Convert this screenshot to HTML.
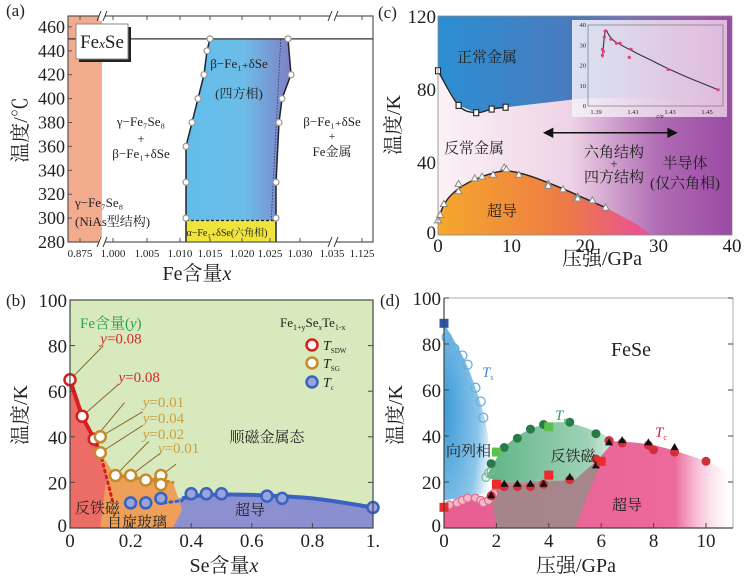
<!DOCTYPE html>
<html><head><meta charset="utf-8">
<style>
html,body{margin:0;padding:0;background:#fff;}
svg{display:block;}
svg text{font-family:"Liberation Serif","Noto Serif CJK SC","Noto Sans CJK SC",serif;}
</style></head>
<body>
<svg id="fig" width="752" height="578" viewBox="0 0 752 578" xmlns="http://www.w3.org/2000/svg">
<defs>
<linearGradient id="gBeta" x1="0" x2="1" y1="0" y2="0"><stop offset="0" stop-color="#62bdea"/><stop offset="0.55" stop-color="#6cbde8"/><stop offset="1" stop-color="#7f7fc6"/></linearGradient>
<linearGradient id="gCbg" x1="0" x2="1" y1="0" y2="0"><stop offset="0" stop-color="#fbf2f6"/><stop offset="0.45" stop-color="#eed3e6"/><stop offset="0.75" stop-color="#b06cb4"/><stop offset="1" stop-color="#9a4aa4"/></linearGradient>
<linearGradient id="gCblue" x1="0" x2="1" y1="0" y2="0"><stop offset="0" stop-color="#2b8fd2"/><stop offset="0.5" stop-color="#4d78bc"/><stop offset="0.8" stop-color="#7a5cb0" stop-opacity="0.6"/><stop offset="1" stop-color="#9a4aa4" stop-opacity="0"/></linearGradient>
<linearGradient id="gCsc" x1="0" x2="1" y1="0" y2="0"><stop offset="0" stop-color="#f4a82c"/><stop offset="0.6" stop-color="#ee7a45"/><stop offset="1" stop-color="#e94e9a"/></linearGradient>
<linearGradient id="gBsc" x1="0" x2="1"><stop offset="0" stop-color="#e7a07a"/><stop offset="0.15" stop-color="#8e90cf"/><stop offset="1" stop-color="#8a8fd0"/></linearGradient>
<radialGradient id="gDblue" cx="0" cy="0.5" r="1"><stop offset="0" stop-color="#3a9ad8"/><stop offset="0.7" stop-color="#8cc6ea"/><stop offset="1" stop-color="#fff"/></radialGradient>
<linearGradient id="gDpink" x1="0" x2="1"><stop offset="0" stop-color="#e85d92"/><stop offset="0.8" stop-color="#ec6a9c"/><stop offset="1" stop-color="#fff" stop-opacity="0.2"/></linearGradient>
<linearGradient id="gDgreen" x1="0" x2="1"><stop offset="0" stop-color="#5fb486"/><stop offset="0.8" stop-color="#9fd2b6"/><stop offset="1" stop-color="#d8efe3"/></linearGradient>
<linearGradient id="gInset" x1="0" x2="1"><stop offset="0" stop-color="#f4f4fb" stop-opacity="0.85"/><stop offset="1" stop-color="#f0d4ea" stop-opacity="0.8"/></linearGradient>
</defs>
<g id="pa"></g>
<g id="pc"></g>
<g id="pb"></g>
<g id="pd"></g>
</svg>
<script>
// ---------- Panel (a) data ----------
const aLeftPtsX = [1.011,1.011,1.011,1.012,1.013,1.014,1.0145,1.015];
const aLeftPtsT = [300,330,360,380,400,420,440,450];
const aRightPtsX = [1.026,1.026,1.0265,1.027,1.0285,1.028];
const aRightPtsT = [300,330,380,400,420,450];
const aXTicks = ["0.875","1.000","1.005","1.010","1.015","1.020","1.025","1.030","1.035","1.125"];
const aYTicks = [280,300,320,340,360,380,400,420,440,460];
// ---------- Panel (c) data ----------
const cNormP = [0,2.8,5.2,7.3,9.2];
const cNormT = [90,71,67,69,70];
const cScP = [0,0.3,0.8,2.8,2.8,5,6,7.5,9,9.3,11,15,15,17,19,19,21,22.8];
const cScT = [8,11,17,28,24,31,32,33,37,36,33,28,27,25,21,20,19,15];
const cXTicks = [0,10,20,30,40];
const cYTicks = [0,40,80,120];
const insX = [1.3935,1.3935,1.394,1.3945,1.395,1.398,1.401,1.403,1.408,1.409,1.429,1.456];
const insY = [25,28,27,34,37,33,31,31,24,28,18,8];
const insCurveX = [1.3935,1.395,1.397,1.40,1.41,1.42,1.43,1.44,1.456];
const insCurveY = [24,37,35,32,27,22.5,18,14,8];
const insXTicks = [1.39,1.41,1.43,1.45];
const insYTicks = [0,10,20,30,40];
// ---------- Panel (b) data ----------
const bSdwX = [0,0.04,0.08];
const bSdwT = [65,49,39];
const bSgX = [0.1,0.1,0.15,0.2,0.25,0.3,0.3];
const bSgT = [40,33,23,23,21,23,19];
const bTcX = [0.2,0.25,0.3,0.4,0.45,0.5,0.65,0.7,1.0];
const bTcT = [11,11,13,15,15,15,14,13,9];
const bXTicks = [0,0.2,0.4,0.6,0.8,1.0];
const bYTicks = [0,20,40,60,80,100];
// ---------- Panel (d) data ----------
const dTsP = [0.1,0.4,0.7,0.9,1.2,1.4,1.5];
const dTsT = [83,78,75,71,61,55,48];
const dOpenGP = [1.6,1.7,1.8];
const dOpenGT = [22,24,25];
const dTmP = [1.8,2.3,2.8,3.3,3.8,4.8,5.8,6.3];
const dTmT = [28,35,39,43,45,46,41,38];
const dGsqP = [2,4];
const dGsqT = [33,44];
const dRsqP = [0,2,4,6];
const dRsqT = [9,19,23,29];
const dTcOpenP = [0.2,0.5,0.7,0.9,1.2,1.4,1.5,1.7,1.9];
const dTcOpenT = [10,11,12,13,13,12,11,12,15];
const dTcP = [1.8,2.3,2.8,3.3,3.8,4.8,5.8,6.3,6.8,7.8,8,8.8,10];
const dTcT = [14,18,18,18,19,21,30,38,37,36,34,33,29];
const dTriP = [1.8,2.3,2.8,3.3,3.8,4.8,5.8,6.3,6.8,7.8,8.8];
const dTriT = [14,19,19,19,19,22,27,37,38,37,35];
const dXTicks = [0,2,4,6,8,10];
const dYTicks = [0,20,40,60,80,100];

const NS="http://www.w3.org/2000/svg";
const FONT='"Liberation Serif","Noto Serif CJK SC","Noto Sans CJK SC",serif';
function mk(parent,tag,attrs,text){const e=document.createElementNS(NS,tag);for(const k in attrs)e.setAttribute(k,attrs[k]);if(tag==='text')e.setAttribute('font-family',FONT);if(text!==undefined)e.textContent=text;parent.appendChild(e);return e;}
function line(p,pts){return pts.map((q,i)=>(i?'L':'M')+q[0].toFixed(1)+','+q[1].toFixed(1)).join('');}
function smooth(pts){let d='M'+pts[0][0]+','+pts[0][1];for(let i=1;i<pts.length;i++){const p0=pts[i-2]||pts[i-1],p1=pts[i-1],p2=pts[i],p3=pts[i+1]||p2;const c1=[p1[0]+(p2[0]-p0[0])/6,p1[1]+(p2[1]-p0[1])/6],c2=[p2[0]-(p3[0]-p1[0])/6,p2[1]-(p3[1]-p1[1])/6];d+='C'+c1[0].toFixed(1)+','+c1[1].toFixed(1)+' '+c2[0].toFixed(1)+','+c2[1].toFixed(1)+' '+p2[0].toFixed(1)+','+p2[1].toFixed(1);}return d;}
function txt(g,x,y,s,size,opt){opt=opt||{};const t=mk(g,'text',Object.assign({x:x,y:y,'font-size':size,'text-anchor':opt.a||'middle',fill:opt.fill||'#222'},opt.extra||{}),s);return t;}

// ================= Panel A =================
(function(){
const g=document.getElementById('pa');
const X0=68,X1=373,Y0=16,Y1=242;
const xs=v=>180+(v-1.010)/0.005*30;
const ys=t=>242-(t-280)/20*23.9;
mk(g,'rect',{x:X0,y:Y0,width:X1-X0,height:Y1-Y0,fill:'#fff'});
let r=mk(g,'rect',{x:X0,y:Y0,width:34,height:Y1-Y0,fill:'#f3ab8d'});

const left=aLeftPtsX.map((v,i)=>[xs(v),ys(aLeftPtsT[i])]);
const right=aRightPtsX.map((v,i)=>[xs(v),ys(aRightPtsT[i])]);
const lb=[[xs(1.011),ys(298)],...left];
const rb=[[xs(1.026),ys(298)],...right];
const poly=lb.concat(rb.slice().reverse());
let p=mk(g,'path',{d:line(g,poly)+'Z',fill:'url(#gBeta)',stroke:'none'});

mk(g,'line',{x1:xs(1.0252),y1:ys(298),x2:xs(1.0268),y2:ys(450),stroke:'#334',"stroke-dasharray":'1.5,1.5','stroke-width':0.8});
let y=mk(g,'rect',{x:xs(1.011),y:ys(298),width:xs(1.026)-xs(1.011),height:Y1-ys(298),fill:'#efe43c'});

mk(g,'line',{x1:xs(1.011),y1:ys(298),x2:xs(1.026),y2:ys(298),stroke:'#222','stroke-dasharray':'3,2','stroke-width':1.2});
mk(g,'path',{d:line(g,[[xs(1.011),Y1],...lb]),fill:'none',stroke:'#223','stroke-width':1.5});
mk(g,'path',{d:line(g,[[xs(1.026),Y1],...rb]),fill:'none',stroke:'#223','stroke-width':1.5});
mk(g,'line',{x1:X0,y1:ys(450),x2:X1,y2:ys(450),stroke:'#333','stroke-width':1.3});
left.concat(right).forEach(q=>{const c=mk(g,'circle',{cx:q[0],cy:q[1],r:3,fill:'#fff',stroke:'#999','stroke-width':1.2});});
mk(g,'rect',{x:X0,y:Y0,width:X1-X0,height:Y1-Y0,fill:'none',stroke:'#555','stroke-width':1.2});
const tx=[80,113,147,180,210,242,270,300,332,362];
aXTicks.forEach((s,i)=>{mk(g,'line',{x1:tx[i],y1:Y1,x2:tx[i],y2:Y1-4,stroke:'#555'});mk(g,'line',{x1:tx[i],y1:Y0,x2:tx[i],y2:Y0+4,stroke:'#555'});const t=txt(g,tx[i],Y1+15,s,11);});
aYTicks.forEach(v=>{mk(g,'line',{x1:X0,y1:ys(v),x2:X0+4,y2:ys(v),stroke:'#555'});const t=txt(g,X0-3,ys(v)+6,String(v),18,{a:'end'});});
[[102,Y0],[333,Y0],[102,Y1],[333,Y1]].forEach(b=>{mk(g,'rect',{x:b[0]-3,y:b[1]-5,width:6,height:10,fill:'#fff'});mk(g,'path',{d:`M${b[0]-5},${b[1]+5}L${b[0]-1},${b[1]-5}M${b[0]+1},${b[1]+5}L${b[0]+5},${b[1]-5}`,stroke:'#333','stroke-width':1});});
mk(g,'rect',{x:79,y:27,width:52,height:35,fill:'#222'});
let lb2=mk(g,'rect',{x:76,y:24,width:52,height:35,fill:'#fff',stroke:'#888'});

const t1=mk(g,'text',{x:102,y:48,'font-size':19,'text-anchor':'middle',fill:'#222'});t1.innerHTML='Fe<tspan font-style="italic" font-size="13">x</tspan>Se';
txt(g,6,16,'(a)',17,{a:'start'});
txt(g,141,126,'γ−Fe₇Se₈',13);txt(g,141,143,'+',13);txt(g,141,158,'β−Fe₁₊δSe',13);
txt(g,75,207,'γ−Fe₇Se₈',13,{a:'start'});
txt(g,75,226,'(NiAs型结构)',13,{a:'start'});
txt(g,239,68,'β−Fe₁₊δSe',13);txt(g,239,98,'(四方相)',13);
txt(g,332,126,'β−Fe₁₊δSe',13);txt(g,332,140,'+',12);txt(g,332,156,'Fe金属',13);
txt(g,227,236,'α−Fe₁₊δSe(六角相)',10);
const ya=txt(g,0,0,'温度/℃',20,{extra:{transform:'translate(27,130) rotate(-90)'}});
const xa=mk(g,'text',{x:197,y:280,'font-size':20,'text-anchor':'middle',fill:'#222'});xa.innerHTML='Fe含量<tspan font-style="italic">x</tspan>';

})();

// ================= Panel C =================
(function(){
const g=document.getElementById('pc');
const X0=438,X1=732,Y0=16,Y1=235;
const xs=v=>X0+v*(X1-X0)/40;const ys=t=>Y1-t*(Y1-Y0)/120;
mk(g,'rect',{x:X0,y:Y0,width:X1-X0,height:Y1-Y0,fill:'url(#gCbg)'});
const norm=cNormP.map((v,i)=>[xs(v),ys(cNormT[i])]);
let bl=mk(g,'path',{d:`M${X0},${Y0}L${X1},${Y0}L${X1},${ys(75)}L${xs(20)},${ys(75)}L${xs(9.2)},${ys(70)}`+line(g,norm.slice().reverse()).replace('M','L')+'Z',fill:'url(#gCblue)'});

const sc=cScP.map((v,i)=>[xs(v),ys(cScT[i])]);
const scCurve=[[xs(0),ys(8)],[xs(1),ys(18)],[xs(3),ys(26)],[xs(6),ys(32)],[xs(9),ys(35)],[xs(12),ys(33)],[xs(16),ys(27)],[xs(20),ys(20)],[xs(22.8),ys(15)]];
let d=mk(g,'path',{d:smooth(scCurve)+`L${xs(27)},${ys(6)}L${xs(29)},${Y1}L${X0},${Y1}Z`,fill:'url(#gCsc)'});

mk(g,'path',{d:smooth(scCurve),fill:'none',stroke:'#222','stroke-width':1.4});
mk(g,'path',{d:smooth(norm),fill:'none',stroke:'#222','stroke-width':1.4});
norm.forEach(q=>{const s=mk(g,'rect',{x:q[0]-2.5,y:q[1]-3,width:5,height:6,fill:'#fff',stroke:'#222','stroke-width':1.1});});
sc.forEach(q=>{const s=mk(g,'path',{d:`M${q[0]},${q[1]-3.5}L${q[0]+3.5},${q[1]+2.5}L${q[0]-3.5},${q[1]+2.5}Z`,fill:'#fff',stroke:'#888','stroke-width':1});});
const ar=mk(g,'path',{d:`M${xs(14.8)},${ys(56)}L${xs(32)},${ys(56)}M${xs(14.5)},${ys(56)}l8,-4v8zM${xs(32.4)},${ys(56)}l-8,-4v8z`,stroke:'#111','stroke-width':1.5,fill:'#111'});

mk(g,'rect',{x:X0,y:Y0,width:X1-X0,height:Y1-Y0,fill:'none',stroke:'#888','stroke-width':0.8});
cXTicks.forEach(v=>{const t=txt(g,xs(v),Y1+17,String(v),19);});
cYTicks.forEach(v=>{const t=txt(g,X0-2,ys(v)+(v===0?4:7),String(v),19,{a:'end'});});
txt(g,378,18,'(c)',17,{a:'start'});
txt(g,487,62,'正常金属',15);txt(g,474,153,'反常金属',15);txt(g,502,216,'超导',15);
txt(g,614,157,'六角结构',15);txt(g,614,168,'+',13);txt(g,614,182,'四方结构',15);
txt(g,685,168,'半导体',15);txt(g,685,188,'(仅六角相)',15);
const ya=txt(g,0,0,'温度/K',20,{extra:{transform:'translate(400,125) rotate(-90)'}});
const xa=txt(g,602,265,'压强/GPa',20);
const ig=mk(g,'g',{});
mk(ig,'rect',{x:572,y:20,width:155,height:97,fill:'url(#gInset)'});
const IX0=588,IX1=723,IY0=25,IY1=106;
const ixs=v=>596+(v-1.39)/0.01*18.5;const iys=v=>IY1-v*(IY1-IY0)/40;
mk(ig,'rect',{x:IX0,y:IY0,width:IX1-IX0,height:IY1-IY0,fill:'none',stroke:'#777','stroke-width':0.7});
mk(ig,'path',{d:smooth(insCurveX.map((v,i)=>[ixs(v),iys(insCurveY[i])])),fill:'none',stroke:'#333','stroke-width':1.1});
insX.forEach((v,i)=>{const c=mk(ig,'circle',{cx:ixs(v),cy:iys(insY[i]),r:1.6,fill:'#e0407a'});});
insXTicks.forEach(v=>txt(ig,ixs(v),IY1+8,v.toFixed(2),6.5));
insYTicks.forEach(v=>txt(ig,IX0-2,iys(v)+2,String(v),6.5,{a:'end'}));
txt(ig,660,118,'c/a',6,{extra:{'font-style':'italic'}});
})();

// ================= Panel B =================
(function(){
const g=document.getElementById('pb');
const X0=70,X1=373,Y0=300,Y1=528;
const xs=v=>X0+v*(X1-X0);const ys=t=>Y1-t*(Y1-Y0)/100;
let bg=mk(g,'rect',{x:X0,y:Y0,width:X1-X0,height:Y1-Y0,fill:'#d8e9bd'});

const tcCurve=[[xs(0.3),ys(12)],[xs(0.45),ys(14.5)],[xs(0.6),ys(14.5)],[xs(0.8),ys(13)],[xs(1),ys(9)]];
let sc=mk(g,'path',{d:`M${xs(0.1)},${ys(10)}L${xs(0.3)},${ys(12)}`+smooth(tcCurve).replace('M','L')+`L${X1},${Y1}L${xs(0.1)},${Y1}Z`,fill:'url(#gBsc)'});

let sg=mk(g,'path',{d:`M${xs(0.1)},${ys(33)}L${xs(0.15)},${ys(23)}L${xs(0.3)},${ys(22)}L${xs(0.34)},${ys(20)}L${xs(0.37)},${ys(8)}L${xs(0.34)},${Y1}L${xs(0.1)},${Y1}Z`,fill:'#eea05a'});

let af=mk(g,'path',{d:`M${xs(0)},${ys(65)}L${xs(0.04)},${ys(49)}L${xs(0.08)},${ys(39)}L${xs(0.12)},${ys(22)}L${xs(0.1)},${Y1}L${X0},${Y1}Z`,fill:'#ec6d66'});

mk(g,'path',{d:line(g,[[xs(0),ys(65)],[xs(0.04),ys(49)],[xs(0.08),ys(39)],[xs(0.1),ys(33)]]),stroke:'#d62020','stroke-width':4,fill:'none'});
mk(g,'path',{d:`M${xs(0.1)},${ys(33)}L${xs(0.14)},${ys(12)}`,stroke:'#d62020','stroke-width':3,'stroke-dasharray':'2,4','stroke-linecap':'round',fill:'none'});
mk(g,'path',{d:line(g,[[xs(0.15),ys(23)],[xs(0.2),ys(22.5)],[xs(0.25),ys(21)],[xs(0.3),ys(21)]]),stroke:'#c58a2a','stroke-width':3.5,fill:'none'});
mk(g,'path',{d:`M${xs(0.3)},${ys(21)}L${xs(0.34)},${ys(20)}`,stroke:'#c58a2a','stroke-width':3,'stroke-dasharray':'2,4','stroke-linecap':'round'});
mk(g,'path',{d:`M${xs(0.31)},${ys(11)}L${xs(0.37)},${ys(12)}`,stroke:'#3a62c0','stroke-width':3,'stroke-dasharray':'2,4','stroke-linecap':'round'});
mk(g,'path',{d:smooth([[xs(0.37),ys(13)]].concat(tcCurve.slice(1))),stroke:'#3a62c0','stroke-width':4,fill:'none'});
const lead=[[0,65,0.11,80],[0.04,49,0.16,63],[0.08,39,0.18,55],[0.1,40,0.24,51],[0.1,33,0.24,45],[0.15,23,0.26,38],[0.2,23,0.3,33],[0.3,23,0.35,28]];
lead.forEach(l=>mk(g,'line',{x1:xs(l[0]),y1:ys(l[1]),x2:xs(l[2]),y2:ys(l[3]),stroke:'#8a6a2a','stroke-width':1}));
const labs=[[0.1,81,'y=0.08','#d42a2a'],[0.16,64,'y=0.08','#d42a2a'],[0.24,53,'y=0.01','#c9a040'],[0.24,46,'y=0.04','#c9a040'],[0.24,39,'y=0.02','#c9a040'],[0.29,33,'y=0.01','#c9a040']];
labs.forEach(l=>{const t=mk(g,'text',{x:xs(l[0]),y:ys(l[1]),'font-size':15,fill:l[3]});t.innerHTML='<tspan font-style="italic">y</tspan>'+l[2].slice(1);});
bSdwX.forEach((v,i)=>{const c=mk(g,'circle',{cx:xs(v),cy:ys(bSdwT[i]),r:5.5,fill:'#fff',stroke:'#d62020','stroke-width':2.5});});
bSgX.forEach((v,i)=>{const c=mk(g,'circle',{cx:xs(v),cy:ys(bSgT[i]),r:5.5,fill:'#fff',stroke:'#c58a2a','stroke-width':2.5});});
bTcX.forEach((v,i)=>{const c=mk(g,'circle',{cx:xs(v),cy:ys(bTcT[i]),r:5.5,fill:'#9aa4dc',stroke:'#3a62c0','stroke-width':2.5});});
mk(g,'rect',{x:X0,y:Y0,width:X1-X0,height:Y1-Y0,fill:'none',stroke:'#444','stroke-width':1.2});
bXTicks.forEach(v=>{mk(g,'line',{x1:xs(v),y1:Y1,x2:xs(v),y2:Y1-5,stroke:'#444'});const t=txt(g,xs(v),Y1+19,v===0?'0':(v===1?'1.':v.toFixed(1)),19);});
bYTicks.forEach(v=>{mk(g,'line',{x1:X0,y1:ys(v),x2:X0+5,y2:ys(v),stroke:'#444'});mk(g,'line',{x1:X1,y1:ys(v),x2:X1-5,y2:ys(v),stroke:'#444'});const t=txt(g,X0-3,ys(v)+(v===0?4:7),String(v),19,{a:'end'});});
const ft=mk(g,'text',{x:80,y:328,'font-size':15,fill:'#2aa055'});ft.innerHTML='Fe含量(<tspan font-style="italic">y</tspan>)';
const lg=mk(g,'g',{});
const lt=mk(lg,'text',{x:280,y:327,'font-size':13,fill:'#222'});lt.innerHTML='Fe<tspan font-size="8" dy="3">1+y</tspan><tspan dy="-3">Se</tspan><tspan font-size="8" font-style="italic" dy="3">x</tspan><tspan dy="-3">Te</tspan><tspan font-size="8" dy="3">1-x</tspan>';
[['SDW','#d62020','#fff',345],['SG','#c58a2a','#fff',363],['c','#3a62c0','#9aa4dc',382]].forEach(e=>{const c=mk(lg,'circle',{cx:312,cy:e[3],r:5.5,fill:e[2],stroke:e[1],'stroke-width':2.5});const t=mk(lg,'text',{x:323,y:e[3]+5,'font-size':14,fill:'#222'});t.innerHTML='<tspan font-style="italic">T</tspan><tspan font-size="7" dy="3">'+e[0]+'</tspan>';});
txt(g,267,442,'顺磁金属态',15);
txt(g,75,513,'反铁磁',15,{a:'start'});txt(g,137,527,'自旋玻璃',15);txt(g,250,515,'超导',15);
txt(g,6,306,'(b)',17,{a:'start'});
const ya=txt(g,0,0,'温度/K',20,{extra:{transform:'translate(27,415) rotate(-90)'}});
const xa=mk(g,'text',{x:224,y:572,'font-size':20,'text-anchor':'middle',fill:'#222'});xa.innerHTML='Se含量<tspan font-style="italic">x</tspan>';

})();

// ================= Panel D =================
(function(){
const g=document.getElementById('pd');
const X0=444,X1=733,Y0=298,Y1=528;
const xs=v=>X0+v*26.2;const ys=t=>Y1-t*(Y1-Y0)/100;
mk(g,'rect',{x:X0,y:Y0,width:X1-X0,height:Y1-Y0,fill:'#fff'});
let nb=mk(g,'path',{d:`M${X0},${ys(89)}`+smooth([[xs(0),ys(89)],[xs(0.7),ys(75)],[xs(1.2),ys(61)],[xs(1.6),ys(45)],[xs(1.9),ys(22)]]).replace('M','L')+`L${xs(1.6)},${ys(15)}L${X0},${ys(12)}Z`,fill:'url(#gDblue)'});

let pk=mk(g,'path',{d:`M${X0},${ys(9)}L${xs(0.5)},${ys(11)}L${xs(1.2)},${ys(13)}L${xs(1.6)},${ys(11)}L${xs(2)},${ys(18)}L${xs(5)},${ys(21)}L${xs(6.2)},${ys(38)}`+smooth([[xs(6.2),ys(38)],[xs(8),ys(36)],[xs(10),ys(29)],[xs(11),ys(23)]]).replace('M','L')+`L${X1},${ys(22)}L${X1},${Y1}L${X0},${Y1}Z`,fill:'url(#gDpink)'});

let gr=mk(g,'path',{d:`M${xs(1.9)},${ys(22)}L${xs(2.2)},${ys(20)}L${xs(5)},${ys(21)}L${xs(5.9)},${ys(30)}L${xs(6.3)},${ys(38)}L${xs(5)},${Y1}L${xs(2)},${Y1}L${xs(1.8)},${ys(14)}Z`,fill:'#9e8a88',opacity:0.9});

let gd=mk(g,'path',{d:`M${xs(1.6)},${ys(22)}`+smooth([[xs(1.6),ys(22)],[xs(2.3),ys(35)],[xs(3.3),ys(43)],[xs(4.5),ys(46)],[xs(5.8),ys(42)],[xs(6.5),ys(38)]]).replace('M','L')+`L${xs(5.9)},${ys(30)}L${xs(5)},${ys(21)}L${xs(2.2)},${ys(20)}Z`,fill:'url(#gDgreen)'});

dTsP.forEach((v,i)=>{const c=mk(g,'circle',{cx:xs(v),cy:ys(dTsT[i]),r:4.5,fill:'none',stroke:'#6aaee0','stroke-width':1.3});});
dOpenGP.forEach((v,i)=>{const c=mk(g,'circle',{cx:xs(v),cy:ys(dOpenGT[i]),r:4,fill:'none',stroke:'#7ab890','stroke-width':1.2});});
dTcOpenP.forEach((v,i)=>{const c=mk(g,'circle',{cx:xs(v),cy:ys(dTcOpenT[i]),r:4,fill:'#f6b8cc',stroke:'#e0708e','stroke-width':1.2});});
dTmP.forEach((v,i)=>{const c=mk(g,'circle',{cx:xs(v),cy:ys(dTmT[i]),r:4.5,fill:'#2a7a48'});});
dTcP.forEach((v,i)=>{const c=mk(g,'circle',{cx:xs(v),cy:ys(dTcT[i]),r:4.5,fill:'#d0303c'});});
dTriP.forEach((v,i)=>{const x=xs(v),y=ys(dTriT[i]);const c=mk(g,'path',{d:`M${x},${y-4.5}L${x+4},${y+2.5}L${x-4},${y+2.5}Z`,fill:'#111'});});
dGsqP.forEach((v,i)=>{const c=mk(g,'rect',{x:xs(v)-4.5,y:ys(dGsqT[i])-4.5,width:9,height:9,fill:'#5cc050'});});
dRsqP.forEach((v,i)=>{const c=mk(g,'rect',{x:xs(v)-4.5,y:ys(dRsqT[i])-4.5,width:9,height:9,fill:'#ee2a2a'});});
let bs=mk(g,'rect',{x:xs(0)-4.5,y:ys(89)-4.5,width:9,height:9,fill:'#2a58b0'});
mk(g,'path',{d:`M${X0},${Y0}V${Y1}H${X1}`,fill:'none',stroke:'#444','stroke-width':1.2});
mk(g,'path',{d:`M${X0},${Y0}H${X1}V${Y1}`,fill:'none',stroke:'#999','stroke-width':0.8});
dXTicks.forEach(v=>{mk(g,'line',{x1:xs(v),y1:Y1,x2:xs(v),y2:Y1-5,stroke:'#444'});const t=txt(g,xs(v),Y1+19,String(v),19);});
dYTicks.forEach(v=>{mk(g,'line',{x1:X0,y1:ys(v),x2:X0+5,y2:ys(v),stroke:'#444'});mk(g,'line',{x1:X1,y1:ys(v),x2:X1-5,y2:ys(v),stroke:'#444'});const t=txt(g,X0-3,ys(v)+(v===0?4:7),String(v),19,{a:'end'});});
txt(g,631,356,'FeSe',20);
const ts=mk(g,'text',{x:482,y:377,'font-size':15,fill:'#3a8ad0'});ts.innerHTML='<tspan font-style="italic">T</tspan><tspan font-size="8" dy="3">s</tspan>';
const tm=mk(g,'text',{x:555,y:420,'font-size':15,fill:'#2aa060'});tm.innerHTML='<tspan font-style="italic">T</tspan><tspan font-size="8" dy="3">m</tspan>';
const tc=mk(g,'text',{x:655,y:437,'font-size':15,fill:'#d02040'});tc.innerHTML='<tspan font-style="italic">T</tspan><tspan font-size="8" dy="3">c</tspan>';
txt(g,446,456,'向列相',15,{a:'start'});txt(g,573,461,'反铁磁',15);txt(g,627,510,'超导',15);
txt(g,380,306,'(d)',17,{a:'start'});
const ya=txt(g,0,0,'温度/K',20,{extra:{transform:'translate(402,415) rotate(-90)'}});
const xa=txt(g,576,572,'压强/GPa',20);
})();
</script>
</body></html>
